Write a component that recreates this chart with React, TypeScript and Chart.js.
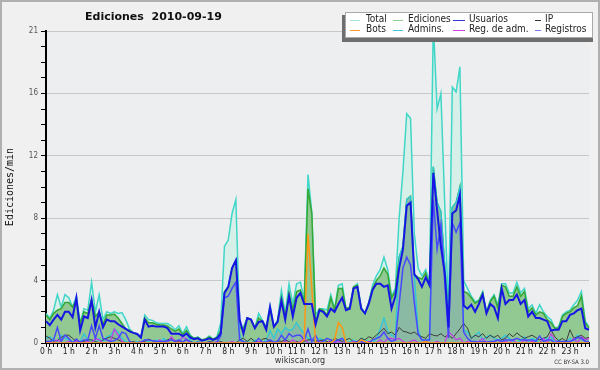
import { useEffect, useRef } from 'react';
import { Chart, registerables } from 'chart.js';
Chart.register(...registerables);

// 10-minute slots, 0h00 .. 23h50
const slots: string[] = Array.from({ length: 144 }, (_, i) => (i % 6 === 0 ? `${i / 6} h` : ''));

const total = [
  1.9, 1.6, 2.1, 3.1, 2.3, 3.1,   2.9, 2.3, 3.0, 1.3, 2.2, 2.1,
  3.9, 2.0, 3.1, 1.5, 2.0, 1.9,   2.0, 1.9, 1.95, 1.5, 0.9, 0.65,
  0.6, 0.4, 1.8, 1.5, 1.45, 1.3,  1.25, 1.25, 1.25, 1.1, 0.85, 1.1,
  0.6, 1.05, 0.5, 0.3, 0.4, 0.2,  0.25, 0.45, 0.25, 0.4, 1.25, 6.2,
  6.6, 8.3, 9.2, 1.2, 1.0, 1.6,   1.5, 0.95, 1.9, 1.45, 1.05, 2.4,
  1.05, 1.5, 3.4, 1.9, 3.8, 2.5,  3.8, 3.9, 2.8, 10.8, 8.4, 1.8,
  2.2, 2.2, 2.1, 3.1, 2.2, 3.7,   3.8, 2.2, 2.3, 3.6, 3.8, 2.3,
  1.9, 2.6, 3.7, 4.3, 4.7, 5.5,   4.7, 3.0, 3.5, 8.0, 11.0, 14.7,
  14.4, 7.0, 4.8, 4.3, 4.7, 3.9,  20.5, 15.0, 16.0, 9.0, 1.8, 16.4,
  16.1, 17.7, 4.0, 3.5, 3.0, 2.65, 2.75, 3.3, 2.0, 2.75, 3.1, 2.45,
  3.8, 3.8, 3.2, 3.2, 3.9, 3.2,   3.5, 2.2, 2.45, 1.9, 2.45, 2.0,
  1.7, 1.5, 0.95, 1.05, 1.8, 2.0, 2.1, 2.45, 2.75, 3.3, 1.4, 1.05,
];

const ediciones = [
  1.8, 1.5, 1.9, 2.1, 2.2, 2.6,   2.6, 2.3, 2.75, 1.25, 2.0, 1.9,
  2.8, 1.7, 2.0, 1.2, 1.8, 1.8,   1.85, 1.6, 1.25, 0.9, 0.8, 0.65,
  0.58, 0.35, 1.6, 1.3, 1.3, 1.2, 1.15, 1.15, 1.1, 0.9, 0.75, 0.9,
  0.55, 0.8, 0.45, 0.3, 0.35, 0.2, 0.25, 0.4, 0.25, 0.35, 0.8, 3.3,
  3.6, 4.8, 5.3, 1.0, 0.9, 1.6,   1.5, 0.95, 1.6, 1.4, 1.0, 2.2,
  1.0, 1.4, 2.9, 1.7, 3.2, 2.1,   3.3, 3.4, 2.6, 9.9, 8.3, 1.3,
  2.2, 2.1, 1.8, 2.9, 2.1, 3.5,   3.5, 2.2, 2.3, 3.6, 3.7, 2.2,
  1.9, 2.6, 3.5, 4.0, 4.3, 4.8,   4.4, 2.9, 3.3, 5.5, 6.2, 9.2,
  9.4, 4.4, 4.2, 4.1, 4.5, 3.7,   11.3, 9.0, 8.4, 5.0, 1.5, 8.7,
  9.0, 10.0, 3.3, 3.2, 2.9, 2.55, 2.7, 3.2, 1.95, 2.65, 3.0, 2.25,
  3.7, 3.6, 3.0, 3.0, 3.6, 3.0,   3.3, 2.0, 2.25, 1.8, 2.0, 1.9,
  1.5, 1.3, 0.95, 0.95, 1.7, 1.9, 2.0, 2.25, 2.4, 3.0, 1.3, 0.95,
];

const usuarios = [
  1.4, 1.15, 1.5, 1.8, 1.5, 2.0,  2.0, 1.65, 2.9, 0.8, 1.7, 1.6,
  2.75, 1.0, 2.0, 1.0, 1.5, 1.4,  1.4, 1.2, 1.05, 0.9, 0.75, 0.65,
  0.58, 0.35, 1.5, 1.05, 1.1, 1.05, 1.05, 1.05, 0.95, 0.6, 0.6, 0.6,
  0.45, 0.6, 0.35, 0.25, 0.3, 0.15, 0.2, 0.3, 0.2, 0.3, 0.6, 3.2,
  3.6, 4.8, 5.3, 1.5, 0.6, 1.6,   1.5, 0.95, 1.35, 1.4, 0.85, 2.3,
  1.05, 1.35, 2.7, 1.5, 3.0, 1.7, 2.9, 3.2, 2.5, 2.5, 2.5, 1.2,
  2.1, 2.0, 1.7, 2.2, 2.0, 2.5,   2.9, 2.1, 2.2, 3.5, 3.6, 2.2,
  1.9, 2.5, 3.4, 3.8, 3.8, 3.6,   3.7, 2.2, 3.0, 4.8, 6.0, 8.8,
  9.0, 4.4, 4.1, 3.6, 4.2, 3.7,   10.9, 8.5, 6.2, 4.5, 1.0, 8.3,
  8.5, 9.5, 2.4, 2.2, 2.45, 2.0,  2.5, 3.1, 1.9, 2.5, 2.3, 1.6,
  3.5, 2.5, 2.75, 2.75, 3.1, 2.5, 2.75, 1.7, 2.0, 1.6, 1.6, 1.5,
  1.4, 0.8, 0.85, 0.85, 1.4, 1.4, 1.8, 1.9, 2.1, 2.2, 0.95, 0.85,
];

const ip = [
  0.45, 0.3, 0.1, 0.15, 0.35, 0.5, 0.5, 0.3, 0.1, 0.0, 0.1, 0.2,
  0.2, 0.1, 0.0, 0.2, 0.3, 0.4,   0.3, 0.2, 0.1, 0.0, 0.0, 0.1,
  0.0, 0.0, 0.1, 0.25, 0.15, 0.1, 0.1, 0.0, 0.2, 0.3, 0.15, 0.1,
  0.05, 0.2, 0.1, 0.0, 0.05, 0.0, 0.0, 0.1, 0.05, 0.0, 0.1, 0.0,
  0.0, 0.0, 0.0, 0.2, 0.3, 0.1,   0.3, 0.1, 0.0, 0.25, 0.3, 0.1,
  0.0, 0.15, 0.1, 0.2, 0.1, 0.0,  0.1, 0.0, 0.1, 0.2, 0.2, 0.1,
  0.15, 0.2, 0.1, 0.05, 0.3, 0.2, 0.1, 0.2, 0.3, 0.05, 0.1, 0.3,
  0.2, 0.4, 0.3, 0.5, 0.7, 0.95,  0.6, 0.7, 0.5, 1.0, 0.75, 0.7,
  0.6, 0.7, 0.5, 0.4, 0.3, 0.6,   0.5, 0.45, 0.6, 0.4, 0.5, 0.3,
  0.6, 0.9, 1.25, 0.95, 0.3, 0.5, 0.4, 0.6, 0.3, 0.5, 0.35, 0.5,
  0.2, 0.3, 0.6, 0.4, 0.65, 0.45, 0.3, 0.4, 0.5, 0.35, 0.2, 0.3,
  0.4, 0.85, 0.4, 0.15, 0.3, 0.1, 0.85, 0.3, 0.4, 0.5, 0.3, 0.35,
];

const bots = [
  0, 0, 0, 0, 0, 0,  0, 0, 0, 0, 0, 0,  0, 0, 0, 0, 0, 0,  0, 0, 0, 0, 0, 0,
  0, 0, 0, 0, 0, 0,  0, 0, 0, 0, 0, 0,  0, 0, 0, 0, 0, 0,  0, 0, 0, 0, 0, 0,
  0, 0, 0, 0, 0, 0,  0, 0, 0, 0, 0, 0,  0, 0, 0, 0, 0, 0,  0, 0, 0.2, 7.0, 3.5, 0,
  0, 0, 0, 0, 0.2, 1.3,  1.0, 0, 0, 0, 0, 0.2,  0.1, 0, 0, 0, 0, 0,  0, 0, 0, 0, 0, 0,
  0, 0, 0, 0, 0.1, 0,  0, 0, 0, 0, 0, 0,  0, 0, 0, 0, 0, 0,  0, 0, 0, 0, 0, 0,
  0, 0, 0, 0, 0, 0,  0, 0, 0, 0, 0, 0,  0, 0, 0, 0, 0, 0,  0, 0, 0, 0, 0, 0,
];

const admins = [
  0.3, 0.4, 0.2, 0.1, 0.5, 0.3,   0.2, 0.1, 0.0, 0.1, 0.6, 0.2,
  0.2, 0.0, 0.3, 0.1, 0.4, 0.5,   0.9, 0.7, 0.3, 0.1, 0.0, 0.0,
  0.1, 0.0, 0.2, 0.1, 0.0, 0.2,   0.0, 0.3, 0.1, 0.0, 0.1, 0.0,
  0.4, 0.6, 0.2, 0.0, 0.1, 0.0,   0.0, 0.1, 0.0, 0.0, 0.5, 3.2,
  3.6, 4.8, 5.3, 0.6, 0.0, 0.1,   0.0, 0.2, 0.0, 0.0, 0.2, 0.8,
  0.3, 0.9, 0.6, 1.0, 0.8, 0.9,   1.3, 0.9, 0.6, 0.3, 0.2, 0.1,
  0.3, 0.2, 0.0, 0.1, 0.0, 0.2,   0.3, 0.0, 0.1, 0.2, 0.0, 0.3,
  0.2, 0.1, 0.0, 0.3, 0.9, 1.6,   0.8, 0.5, 0.4, 5.5, 6.2, 9.2,
  9.4, 4.4, 0.8, 0.2, 0.1, 0.3,   11.3, 9.0, 8.4, 5.0, 1.5, 8.7,
  9.0, 10.0, 0.8, 0.7, 0.3, 0.5,  0.7, 0.2, 0.4, 0.5, 0.3, 0.2,
  0.3, 0.5, 0.3, 0.1, 0.0, 0.2,   0.4, 0.1, 0.3, 0.2, 0.0, 0.3,
  0.3, 0.4, 0.1, 0.2, 0.0, 0.1,   0.3, 0.2, 0.5, 0.3, 0.1, 0.0,
];

const regAdm = [
  0.0, 0.1, 0.0, 0.2, 0.0, 0.0,   0.1, 0.0, 0.15, 0.0, 0.0, 0.1,
  0.0, 0.3, 0.2, 0.0, 0.0, 0.1,   0.9, 0.5, 0.1, 0.0, 0.0, 0.0,
  0.0, 0.1, 0.0, 0.0, 0.0, 0.0,   0.2, 0.0, 0.0, 0.4, 0.1, 0.0,
  0.45, 0.2, 0.0, 0.0, 0.0, 0.0,  0.0, 0.0, 0.0, 0.1, 0.0, 0.0,
  0.0, 0.1, 0.0, 0.0, 0.0, 0.0,   0.0, 0.0, 0.1, 0.0, 0.0, 0.0,
  0.0, 0.0, 0.0, 0.1, 0.0, 0.2,   0.0, 0.1, 0.3, 0.0, 0.0, 0.0,
  0.1, 0.0, 0.0, 0.2, 0.0, 0.1,   0.0, 0.0, 0.0, 0.1, 0.0, 0.0,
  0.0, 0.1, 0.0, 0.0, 0.2, 0.0,   0.3, 0.3, 0.2, 0.3, 0.1, 0.0,
  0.1, 0.2, 0.0, 0.0, 0.1, 0.0,   0.0, 0.1, 0.0, 0.0, 0.7, 0.5,
  0.2, 0.3, 0.0, 0.1, 0.0, 0.0,   0.1, 0.3, 0.0, 0.0, 0.1, 0.2,
  0.0, 0.1, 0.0, 0.2, 0.0, 0.0,   0.2, 0.0, 0.1, 0.0, 0.0, 0.3,
  0.0, 0.6, 0.2, 0.0, 0.1, 0.0,   0.0, 0.3, 0.0, 0.4, 0.2, 0.3,
];

const registros = [
  0.1, 0.1, 0.2, 1.0, 0.1, 0.5,   0.3, 0.0, 0.25, 0.05, 0.2, 0.2,
  1.1, 0.3, 1.1, 0.3, 0.2, 0.1,   0.15, 0.3, 0.7, 0.6, 0.1, 0.0,
  0.0, 0.05, 0.2, 0.2, 0.15, 0.1, 0.1, 0.1, 0.15, 0.2, 0.1, 0.2,
  0.05, 0.25, 0.05, 0.0, 0.05, 0.0, 0.0, 0.05, 0.0, 0.05, 0.45, 2.9,
  3.0, 3.5, 3.9, 0.2, 0.1, 0.0,   0.0, 0.0, 0.3, 0.05, 0.05, 0.2,
  0.05, 0.1, 0.5, 0.2, 0.6, 0.4,  0.5, 0.5, 0.2, 0.9, 0.1, 0.5,
  0.0, 0.1, 0.3, 0.2, 0.1, 0.2,   0.3, 0.0, 0.0, 0.0, 0.1, 0.1,
  0.0, 0.0, 0.2, 0.3, 0.4, 0.7,   0.3, 0.1, 0.2, 2.5, 4.8, 5.5,
  5.0, 2.6, 0.6, 0.2, 0.2, 0.2,   9.2, 6.0, 7.6, 4.0, 0.3, 7.7,
  7.1, 7.7, 0.7, 0.3, 0.1, 0.1,   0.05, 0.1, 0.05, 0.1, 0.1, 0.2,
  0.1, 0.2, 0.2, 0.2, 0.3, 0.2,   0.2, 0.2, 0.2, 0.1, 0.45, 0.1,
  0.2, 0.2, 0.0, 0.1, 0.1, 0.1,   0.1, 0.2, 0.35, 0.3, 0.1, 0.1,
];

const yTickLabels: Record<number, string> = { 0: '0', 4: '4', 8: '8', 12: '12', 16: '16', 20: '21' };

const legendEntries = [
  { label: 'Total', color: '#a6e4da' },
  { label: 'Ediciones', color: '#8ccf8c' },
  { label: 'Usuarios', color: '#3434d8' },
  { label: 'IP', color: '#333333' },
  { label: 'Bots', color: '#ff9a30' },
  { label: 'Admins.', color: '#40c6da' },
  { label: 'Reg. de adm.', color: '#cc44dd' },
  { label: 'Registros', color: '#7878ee' },
];

const SANS = "'DejaVu Sans Condensed', 'DejaVu Sans', sans-serif";

const background = {
  id: 'background',
  beforeDraw(chart: any) {
    const { ctx, chartArea: a, width, height } = chart;
    ctx.save();
    ctx.fillStyle = '#f0f0f0';
    ctx.fillRect(0, 0, width, height);
    ctx.fillStyle = '#edeef0';
    ctx.fillRect(a.left, a.top, a.right - a.left, a.bottom - a.top);
    ctx.restore();
  },
};

const overlay = {
  id: 'overlay',
  afterDraw(chart: any) {
    const { ctx, width, height } = chart;
    ctx.save();
    ctx.strokeStyle = '#b0b0b0';
    ctx.lineWidth = 2;
    ctx.strokeRect(1, 1, width - 2, height - 2);
    ctx.fillStyle = '#111';
    ctx.font = "bold 11px 'DejaVu Sans', sans-serif";
    ctx.textBaseline = 'middle';
    ctx.textAlign = 'left';
    ctx.fillText('Ediciones  2010-09-19', 85, 17);
    ctx.font = `9px ${SANS}`;
    ctx.fillStyle = '#333';
    ctx.textAlign = 'center';
    ctx.fillText('wikiscan.org', 300, 361);
    ctx.font = `6px ${SANS}`;
    ctx.textAlign = 'right';
    ctx.fillText('CC BY-SA 3.0', 589, 362);
    ctx.fillStyle = '#6e6e6e';
    ctx.fillRect(342, 15, 251, 27);
    ctx.fillStyle = '#ffffff';
    ctx.fillRect(345, 12, 248, 26);
    ctx.strokeStyle = '#aaaaaa';
    ctx.lineWidth = 1;
    ctx.strokeRect(345.5, 12.5, 247, 25);
    const lineX = [[350, 360], [393, 403], [453, 465], [535, 541]];
    const textX = [366, 408, 469, 545];
    const rowY = [19.5, 29.5];
    ctx.font = `10px ${SANS}`;
    ctx.textAlign = 'left';
    legendEntries.forEach((e, i) => {
      const col = i % 4;
      const row = Math.floor(i / 4);
      const y = rowY[row];
      ctx.strokeStyle = e.color;
      ctx.lineWidth = 1;
      ctx.beginPath();
      ctx.moveTo(lineX[col][0], Math.round(y) + 0.5);
      ctx.lineTo(lineX[col][1], Math.round(y) + 0.5);
      ctx.stroke();
      ctx.fillStyle = '#222';
      ctx.fillText(e.label, textX[col], y);
    });
    ctx.restore();
  },
};

function ds(label: string, data: number[], color: string, width: number, order: number, fillColor?: string) {
  return {
    label,
    data,
    borderColor: color,
    borderWidth: width,
    backgroundColor: fillColor || 'rgba(0,0,0,0)',
    fill: fillColor ? 'origin' : false,
    pointRadius: 0,
    tension: 0,
    order,
  };
}

export default function App() {
  const ref = useRef<HTMLCanvasElement>(null);
  useEffect(() => {
    document.body.style.margin = '0';
    const chart = new Chart(ref.current!, {
      type: 'line',
      data: {
        labels: slots,
        datasets: [
          ds('Total', total, 'rgb(64,214,200)', 1.5, 9, '#d6efe8'),
          ds('Ediciones', ediciones, 'rgb(52,168,52)', 1.5, 8, '#92c992'),
          ds('Admins.', admins, 'rgb(40,200,222)', 1.2, 7, '#8ab9a4'),
          ds('IP', ip, '#3c3c3c', 1, 6),
          ds('Reg. de adm.', regAdm, 'rgb(196,60,232)', 1.2, 5),
          ds('Registros', registros, 'rgb(72,72,255)', 1.5, 4),
          ds('Bots', bots, 'rgb(255,150,20)', 1.5, 3),
          ds('Usuarios', usuarios, 'rgb(22,22,228)', 2, 2),
        ],
      },
      options: {
        responsive: false,
        animation: false,
        devicePixelRatio: 1,
        layout: { padding: { top: 31, right: 11, bottom: 0, left: 0 } },
        plugins: {
          legend: { display: false },
          title: { display: false },
          tooltip: { enabled: false },
        },
        scales: {
          x: {
            type: 'category',
            offset: false,
            afterFit: (s: any) => { s.height = 27; },
            grid: { drawOnChartArea: false, drawTicks: true, tickLength: 4, tickColor: '#000', tickWidth: 1 },
            border: { display: true, color: '#000', width: 2 },
            ticks: {
              autoSkip: false,
              maxRotation: 0,
              minRotation: 0,
              padding: 0,
              color: '#222',
              font: { family: SANS, size: 8.5 },
              callback: (_v: any, i: number) => slots[i],
            },
          },
          y: {
            type: 'linear',
            min: 0,
            max: 20,
            afterFit: (s: any) => { s.width = 46; },
            grid: {
              color: (c: any) => (c.tick && c.tick.value > 0 && c.tick.value % 4 === 0 ? '#c8c8c8' : 'rgba(0,0,0,0)'),
              drawTicks: true,
              tickLength: 5,
              tickColor: '#000',
              tickWidth: 1,
            },
            border: { display: true, color: '#000', width: 2 },
            ticks: {
              stepSize: 1,
              autoSkip: false,
              padding: 3,
              color: '#555',
              font: { family: SANS, size: 8 },
              callback: (v: any) => (yTickLabels[v as number] ?? ''),
            },
            title: {
              display: true,
              text: 'Ediciones/min',
              color: '#111',
              font: { family: "'DejaVu Sans Mono', monospace", size: 10 },
              padding: { top: 4, bottom: 0 },
            },
          },
        },
      },
      plugins: [background, overlay],
    });
    return () => chart.destroy();
  }, []);
  return (
    <div style={{ width: 600, height: 370 }}>
      <canvas ref={ref} width={600} height={370} style={{ display: 'block' }} />
    </div>
  );
}
